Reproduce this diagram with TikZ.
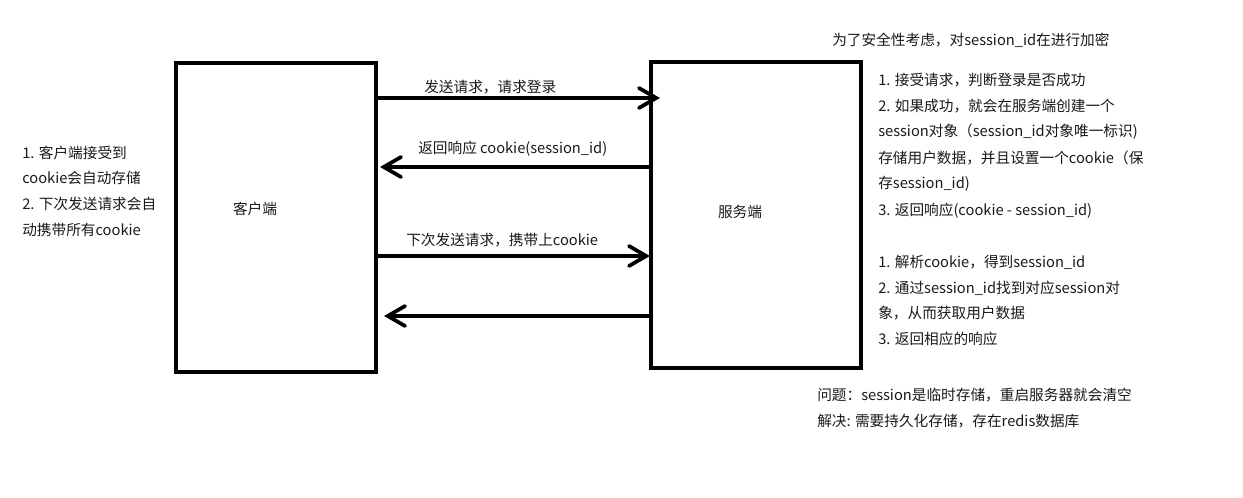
\documentclass[tikz,border=0pt]{standalone}
\usepackage{fontspec}
\newfontfamily\cjk{Noto Sans CJK SC}
\usetikzlibrary{arrows.meta}
\begin{document}
\begin{tikzpicture}[x=0.75pt,y=-0.75pt,
  box/.style={draw,line width=3pt},
  msg/.style={line width=3pt,line cap=round,-{Straight Barb[length=13pt,width=15pt,line width=2.8pt,line cap=round]}},
  txt/.style={font=\cjk\fontsize{11}{13}\selectfont,inner sep=0pt,anchor=west,text=black!90}]
\useasboundingbox (0,0) rectangle (1243,498);

% the two parties
\draw[box] (176,63) rectangle (376,372);
\draw[box] (651,62) rectangle (861,368);
\node[txt,anchor=center] (client) at (255,209) {客户端};
\node[txt,anchor=center] (server) at (740,212) {服务端};

% anchor points on the box edges
\coordinate (c1) at (377,98);  \coordinate (s1) at (660,98);
\coordinate (s2) at (650,167); \coordinate (c2) at (380,167);
\coordinate (c3) at (377,256); \coordinate (s3) at (650,256);
\coordinate (s4) at (650,316); \coordinate (c4) at (384,316);

% requests and responses
\draw[msg] (c1) -- (s1);
\draw[msg] (s2) -- (c2);
\draw[msg] (c3) -- (s3);
\draw[msg] (s4) -- (c4);

\node[txt] (m1) at (424,87) {发送请求，请求登录};
\node[txt] (m2) at (418,149) {返回响应 cookie(session\_id)};
\node[txt] (m3) at (406,240) {下次发送请求，携带上cookie};

% client-side notes
\node[txt] (l1) at (22,153) {1. 客户端接受到};
\node[txt] (l2) at (22,178) {cookie会自动存储};
\node[txt] (l3) at (22,204) {2. 下次发送请求会自};
\node[txt] (l4) at (22,230) {动携带所有cookie};

% server-side notes
\node[txt] (t0) at (832,40) {为了安全性考虑，对session\_id在进行加密};
\node[txt] (r1) at (878,80) {1. 接受请求，判断登录是否成功};
\node[txt] (r2) at (878,106) {2. 如果成功，就会在服务端创建一个};
\node[txt] (r3) at (878,132) {session对象（session\_id对象唯一标识)};
\node[txt] (r4) at (878,158) {存储用户数据，并且设置一个cookie（保};
\node[txt] (r5) at (878,184) {存session\_id)};
\node[txt] (r6) at (878,211) {3. 返回响应(cookie - session\_id)};

\node[txt] (q1) at (878,262) {1. 解析cookie，得到session\_id};
\node[txt] (q2) at (878,288) {2. 通过session\_id找到对应session对};
\node[txt] (q3) at (878,313) {象，从而获取用户数据};
\node[txt] (q4) at (878,339) {3. 返回相应的响应};

\node[txt] (p1) at (817,395) {问题：session是临时存储，重启服务器就会清空};
\node[txt] (p2) at (817,421) {解决: 需要持久化存储，存在redis数据库};
\end{tikzpicture}
\end{document}
